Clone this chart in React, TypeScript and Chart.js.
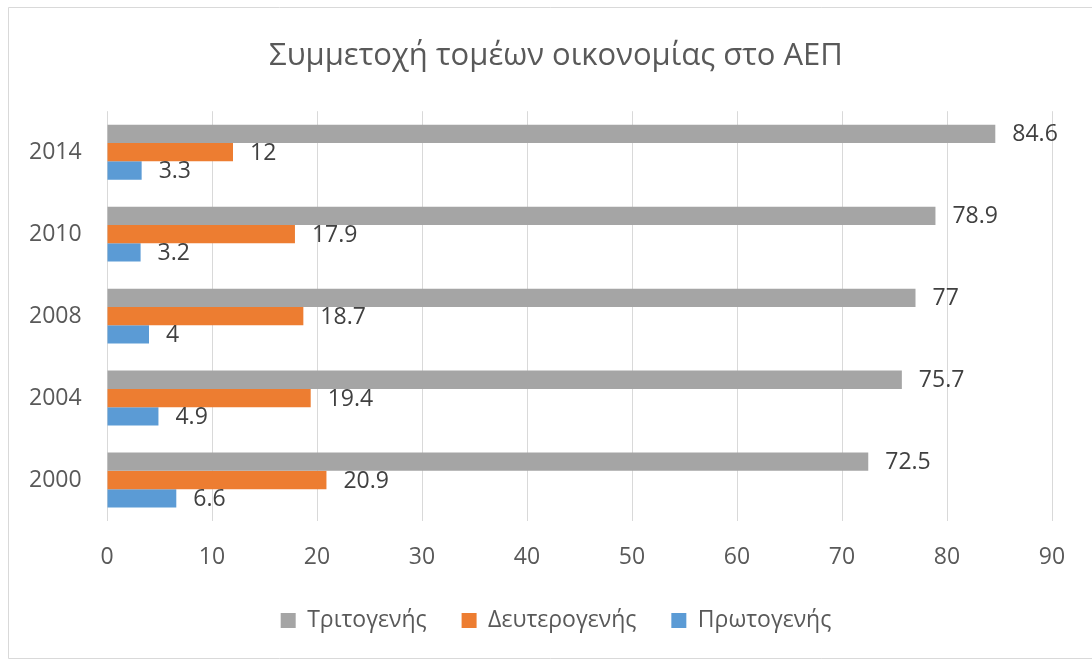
import React, { useEffect, useRef } from "react";
import { Chart, registerables } from "chart.js";

Chart.register(...registerables);

const categories = ["2014", "2010", "2008", "2004", "2000"];
const tertiary = [84.6, 78.9, 77, 75.7, 72.5];
const secondary = [12, 17.9, 18.7, 19.4, 20.9];
const primary = [3.3, 3.2, 4, 4.9, 6.6];
const seriesNames = ["Τριτογενής", "Δευτερογενής", "Πρωτογενής"];
const xTicks = [0, 10, 20, 30, 40, 50, 60, 70, 80, 90];
const titleText = "Συμμετοχή τομέων οικονομίας στο ΑΕΠ";

const FONT = '"Open Sans", "Noto Sans", sans-serif';

const framePlugin = {
  id: "frame",
  beforeDraw(chart: any) {
    const { ctx, width, height } = chart;
    ctx.save();
    ctx.fillStyle = "#ffffff";
    ctx.fillRect(0, 0, width, height);
    ctx.strokeStyle = "#d9d9d9";
    ctx.lineWidth = 1;
    ctx.beginPath();
    ctx.moveTo(width, 7.5);
    ctx.lineTo(8.5, 7.5);
    ctx.lineTo(8.5, 658.5);
    ctx.lineTo(width, 658.5);
    ctx.stroke();
    ctx.restore();
  },
};

const dataLabelPlugin = {
  id: "dataLabels",
  afterDatasetsDraw(chart: any) {
    const ctx = chart.ctx;
    ctx.save();
    ctx.font = `23px ${FONT}`;
    ctx.fillStyle = "#404040";
    ctx.textAlign = "left";
    ctx.textBaseline = "middle";
    chart.data.datasets.forEach((ds: any, i: number) => {
      const meta = chart.getDatasetMeta(i);
      meta.data.forEach((bar: any, j: number) => {
        ctx.fillText(String(ds.data[j]), bar.x + 17, bar.y + 1);
      });
    });
    ctx.restore();
  },
};

export default function App() {
  const ref = useRef<HTMLCanvasElement | null>(null);
  useEffect(() => {
    if (!ref.current) return;
    const chart = new Chart(ref.current, {
      type: "bar",
      data: {
        labels: categories,
        datasets: [
          { label: seriesNames[0], data: tertiary, backgroundColor: "#A5A5A5" },
          { label: seriesNames[1], data: secondary, backgroundColor: "#ED7D31" },
          { label: seriesNames[2], data: primary, backgroundColor: "#5B9BD5" },
        ],
      },
      options: {
        indexAxis: "y",
        responsive: false,
        animation: false,
        devicePixelRatio: 1,
        datasets: { bar: { barPercentage: 1, categoryPercentage: 0.67 } },
        layout: { padding: { left: 60, right: 40, top: 0, bottom: 18 } },
        scales: {
          x: {
            min: 0,
            max: 90,
            afterBuildTicks(axis: any) {
              axis.ticks = xTicks.map((v) => ({ value: v }));
            },
            afterFit(axis: any) {
              axis.height = 53;
            },
            grid: { color: "#d9d9d9", drawTicks: false, lineWidth: 1 },
            border: { display: false },
            ticks: {
              padding: 23,
              color: "#595959",
              font: { family: FONT, size: 23 },
            },
          },
          y: {
            afterFit(axis: any) {
              axis.width = 47;
            },
            grid: { display: false, drawTicks: false },
            border: { display: false },
            ticks: {
              mirror: true,
              padding: -78,
              color: "#595959",
              font: { family: FONT, size: 23 },
            },
          },
        },
        plugins: {
          title: {
            display: true,
            text: titleText,
            color: "#595959",
            font: { family: FONT, size: 31, weight: "normal" },
            padding: { top: 38, bottom: 36 },
          },
          legend: {
            position: "bottom",
            labels: {
              boxWidth: 15,
              boxHeight: 15,
              padding: 35,
              color: "#595959",
              font: { family: FONT, size: 23 },
            },
          },
          tooltip: { enabled: false },
        },
      },
      plugins: [framePlugin, dataLabelPlugin],
    } as any);
    return () => chart.destroy();
  }, []);
  return (
    <div style={{ position: "absolute", left: 0, top: 0, width: 1092, height: 660 }}>
      <canvas ref={ref} width={1092} height={660} style={{ width: 1092, height: 660, display: "block" }} />
    </div>
  );
}
